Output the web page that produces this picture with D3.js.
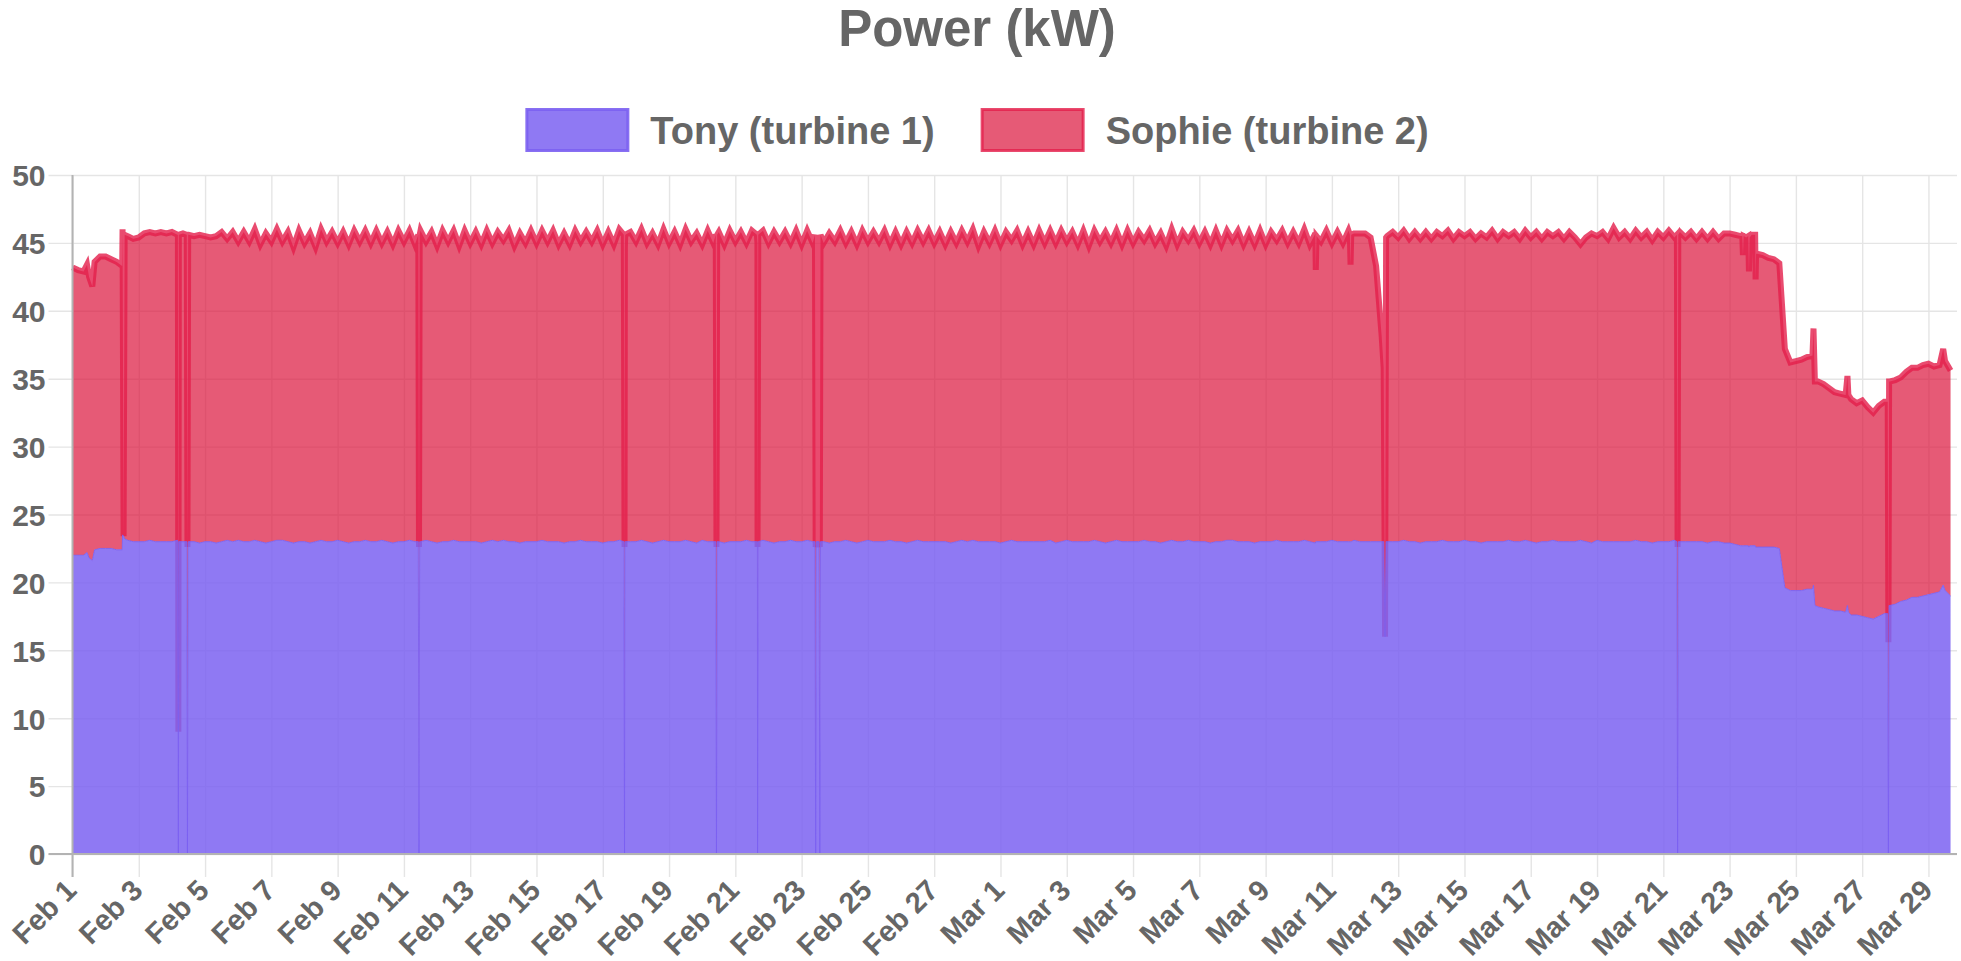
<!DOCTYPE html>
<html><head><meta charset="utf-8">
<script src="https://cdn.jsdelivr.net/npm/d3@7"></script>
<style>html,body{margin:0;padding:0;background:#fff;}svg{display:block;}</style>
</head><body>
<svg id="c" width="1961" height="961"></svg>
<script>
// ---------------- DATA ----------------
const startTime = "2023-02-01T00:00";   // first sample, one sample every 4 hours
const stepHours = 4;
const seriesNames = ["Tony (turbine 1)", "Sophie (turbine 2)"];

// Tony (turbine 1), kW, one row per day (00,04,08,12,16,20h)
const tonyKW = [
22.0,22.0,22.0,21.8,22.4,22.5,
22.5,22.5,22.4,22.4,23.1,23.0,
23.0,23.0,23.1,23.0,23.0,23.0,
23.0,23.1,23.0,23.0,23.0,22.9,
23.0,23.0,22.9,23.0,23.1,23.0,
23.1,23.0,23.0,23.1,23.0,22.9,
23.0,23.1,23.1,23.0,22.9,23.0,
23.0,22.9,23.0,23.1,23.0,23.0,
23.1,23.0,22.9,23.0,23.0,23.1,
23.0,23.0,23.1,23.0,22.9,23.0,
23.0,23.1,23.0,23.0,23.1,23.0,
22.9,23.0,23.0,23.1,23.0,23.0,
23.0,23.0,22.9,23.0,23.1,23.0,
23.1,23.0,23.0,22.9,23.0,23.0,
23.0,23.1,23.0,23.0,23.0,22.9,
23.0,23.0,23.1,23.0,23.0,23.0,
22.9,23.0,23.0,23.1,23.0,23.0,
23.0,23.1,23.0,22.9,23.0,23.1,
23.0,23.0,23.0,23.1,23.0,22.9,
23.1,23.0,23.0,23.0,22.9,23.0,
23.0,23.0,23.1,23.0,23.0,23.1,
23.0,22.9,23.0,23.0,23.1,23.0,
23.0,23.1,23.0,23.0,23.0,22.9,
23.0,23.0,23.1,23.0,22.9,23.0,
23.1,23.0,23.0,23.0,23.1,23.0,
23.0,22.9,23.0,23.1,23.0,23.0,
23.0,23.0,23.0,22.9,23.0,23.1,
23.0,23.1,23.0,23.0,23.0,23.0,
22.9,23.0,23.1,23.0,23.0,23.0,
23.0,23.0,23.0,23.1,22.9,23.0,
23.1,23.0,23.0,23.0,23.0,23.1,
23.0,22.9,23.0,23.1,23.0,23.0,
23.0,23.0,23.1,23.0,23.0,22.9,
23.0,23.1,23.0,23.0,23.1,23.0,
23.0,23.0,22.9,23.0,23.0,23.1,
23.1,23.0,23.0,23.0,22.9,23.0,
23.0,23.0,23.1,23.0,23.0,23.0,
23.0,23.1,23.0,22.9,23.0,23.0,
23.1,23.0,23.0,23.0,23.1,23.0,
23.0,23.0,23.0,23.0,23.0,23.0,
23.0,23.1,23.0,23.0,22.9,23.0,
23.0,23.0,23.1,23.0,23.0,23.0,
23.1,23.0,23.0,22.9,23.0,23.0,
23.0,23.0,23.1,23.0,23.0,23.1,
23.0,22.9,23.0,23.0,23.1,23.0,
23.0,23.0,23.0,23.1,23.0,22.9,
23.1,23.0,23.0,23.0,23.0,23.0,
23.0,23.1,23.0,23.0,22.9,23.0,
23.0,23.0,23.1,23.0,23.0,23.0,
23.0,23.0,22.9,23.0,23.0,22.9,
22.9,22.8,22.7,22.7,22.7,22.6,
22.6,22.6,22.6,22.5,19.6,19.4,
19.4,19.4,19.5,19.5,18.2,18.1,
18.0,17.9,17.9,17.8,17.6,17.6,
17.5,17.4,17.3,17.5,17.7,18.3,
18.4,18.6,18.7,18.9,18.9,19.0,
19.1,19.2,19.3,19.4,19.0
];

// Sophie (turbine 2), kW, same timestamps
const sophieKW = [
21.2,21.0,20.9,20.7,21.2,21.5,
21.5,21.3,21.2,20.9,22.4,22.3,
22.4,22.7,22.7,22.7,22.8,22.7,
22.8,22.5,22.7,22.6,22.5,22.7,
22.5,22.4,22.6,22.8,22.2,22.8,
22.0,22.8,22.1,22.9,21.9,22.8,
22.1,22.9,22.0,22.8,21.8,22.9,
22.0,22.8,21.7,22.9,22.1,22.8,
21.9,22.8,22.0,22.9,22.1,22.8,
22.0,22.9,21.9,22.8,22.0,22.9,
22.1,22.8,21.9,22.9,22.0,22.8,
21.9,22.9,22.1,22.8,21.8,22.9,
22.0,22.8,22.0,22.9,21.9,22.8,
22.1,22.9,21.8,22.8,22.0,22.9,
22.0,22.8,22.1,22.9,21.9,22.8,
21.9,22.9,22.0,22.8,22.1,22.9,
22.0,22.8,21.9,22.9,21.7,22.8,
22.1,22.9,22.0,22.8,21.9,22.9,
22.0,22.8,21.9,22.9,22.1,22.8,
21.8,22.9,22.0,22.8,22.0,22.9,
22.1,22.8,21.9,22.9,22.0,22.8,
22.0,22.9,22.1,22.8,21.9,22.9,
21.9,22.8,22.0,0.0,22.0,22.8,
22.1,22.9,21.9,22.8,22.0,22.9,
22.0,22.8,22.1,22.9,21.8,22.8,
21.9,22.9,22.0,22.8,22.1,22.9,
22.0,22.8,21.9,22.9,22.0,22.8,
22.1,22.9,21.8,22.8,22.0,22.9,
22.0,22.8,22.1,22.9,21.9,22.8,
21.9,22.9,22.0,22.8,22.1,22.9,
22.0,22.8,21.9,22.9,21.8,22.8,
22.1,22.9,22.0,22.8,21.9,22.9,
22.0,22.8,22.1,22.9,22.0,22.8,
21.8,22.9,21.9,22.8,22.1,22.9,
22.0,22.8,22.0,22.9,21.9,22.8,
22.1,22.9,21.9,22.8,22.0,22.9,
21.9,22.8,22.1,22.9,22.0,22.8,
22.0,22.9,21.9,22.8,22.1,22.9,
21.9,22.8,22.0,22.9,22.6,22.7,
22.7,22.4,20.3,15.2,22.5,22.8,
22.4,22.8,22.3,22.8,22.4,22.8,
22.3,22.8,22.4,22.9,22.3,22.8,
22.4,22.8,22.3,22.8,22.4,22.9,
22.3,22.8,22.4,22.8,22.3,22.8,
22.4,22.9,22.3,22.8,22.4,22.8,
22.3,22.8,22.4,21.8,22.4,22.8,
22.4,22.8,22.3,23.1,22.4,22.8,
22.3,22.8,22.4,22.8,22.3,22.8,
22.4,22.9,22.3,22.8,22.4,22.8,
22.3,22.8,22.4,22.8,22.3,22.8,
22.8,22.8,22.8,22.7,22.9,21.6,
21.5,21.3,21.2,21.0,17.6,16.8,
16.9,17.0,17.1,17.2,16.6,16.5,
16.3,16.1,16.0,16.0,15.9,15.6,
15.9,15.5,15.2,15.5,15.6,16.5,
16.5,16.5,16.8,16.9,16.9,17.0,
17.0,16.7,16.7,16.9,16.6
];

// short outages / spikes between the regular samples: [time, tony kW, sophie kW]
const eventRows = [
["2023-02-01T10:30",22.2,21.2],["2023-02-01T14:20",21.6,20.2],
["2023-02-02T12:15",23.5,22.5],["2023-02-02T13:00",23.4,0],["2023-02-02T13:45",23.2,22.4],
["2023-02-04T04:20",23.0,22.6],["2023-02-04T04:40",0,9.0],["2023-02-04T05:00",23.0,22.6],
["2023-02-04T10:45",23.0,22.6],["2023-02-04T11:15",0,22.6],["2023-02-04T11:45",23.0,22.6],
["2023-02-11T10:25",23.0,22.6],["2023-02-11T10:55",0,22.6],["2023-02-11T11:25",23.0,22.6],
["2023-02-17T15:15",23.0,22.6],["2023-02-17T15:45",0,22.6],["2023-02-17T16:15",23.0,22.6],
["2023-02-20T09:50",23.0,22.6],["2023-02-20T10:20",0,22.6],["2023-02-20T10:50",23.0,22.6],
["2023-02-21T15:35",23.0,22.6],["2023-02-21T16:05",0,22.6],["2023-02-21T16:35",23.0,22.6],
["2023-02-23T09:40",23.0,22.6],["2023-02-23T10:10",0,22.6],["2023-02-23T10:40",23.0,0],
["2023-02-23T12:40",23.0,0],["2023-02-23T13:10",0,22.6],["2023-02-23T13:40",23.0,22.6],
["2023-03-10T12:20",23.0,20.0],["2023-03-10T12:50",23.0,22.5],
["2023-03-11T13:00",23.0,22.6],["2023-03-11T13:30",23.0,20.4],["2023-03-11T14:00",23.0,22.6],
["2023-03-12T13:30",23.0,12.8],["2023-03-12T14:30",16.0,0],["2023-03-12T15:15",23.0,22.4],
["2023-03-21T09:50",23.0,22.6],["2023-03-21T10:20",0,22.6],["2023-03-21T10:50",23.0,22.6],
["2023-03-23T09:10",22.7,22.8],["2023-03-23T09:40",22.7,21.4],["2023-03-23T10:10",22.7,22.8],
["2023-03-23T13:30",22.7,22.8],["2023-03-23T14:00",22.6,20.3],["2023-03-23T14:30",22.7,22.7],
["2023-03-23T18:30",22.7,22.9],["2023-03-23T18:50",22.6,19.7],["2023-03-23T19:10",22.6,21.6],
["2023-03-25T12:45",19.8,18.9],["2023-03-25T13:45",18.3,16.5],
["2023-03-26T13:20",18.3,16.9],["2023-03-26T14:00",17.8,16.0],
["2023-03-27T18:30",17.7,15.6],["2023-03-27T19:00",0,15.6],["2023-03-27T19:30",18.3,16.5],
["2023-03-29T10:40",19.8,17.4]
];

const xTickLabels = ["Feb 1","Feb 3","Feb 5","Feb 7","Feb 9","Feb 11","Feb 13","Feb 15","Feb 17","Feb 19",
  "Feb 21","Feb 23","Feb 25","Feb 27","Mar 1","Mar 3","Mar 5","Mar 7","Mar 9","Mar 11","Mar 13","Mar 15",
  "Mar 17","Mar 19","Mar 21","Mar 23","Mar 25","Mar 27","Mar 29"];
const yTicks = [0,5,10,15,20,25,30,35,40,45,50];
const axisStart = "2023-02-01T00:00", axisEnd = "2023-03-29T20:40";

// ---------------- BUILD ----------------
const parseT = d3.timeParse("%Y-%m-%dT%H:%M");
const t0 = parseT(startTime);
const byTime = new Map();
tonyKW.forEach((v, i) => {
  const t = d3.timeHour.offset(t0, i * stepHours);
  byTime.set(+t, {t, tony: v, sophie: sophieKW[i]});
});
eventRows.forEach(([s, a, b]) => { const t = parseT(s); byTime.set(+t, {t, tony: a, sophie: b}); });
const rows = Array.from(byTime.values()).sort((a, b) => a.t - b.t);

const X0 = 72.5, X1 = 1957, YT = 175, Y0 = 854;
const x = d3.scaleTime().domain([parseT(axisStart), parseT(axisEnd)]).range([X0, X1]);
const y = d3.scaleLinear().domain([0, 50]).range([Y0, YT]);
const xTickDates = xTickLabels.map(l => d3.timeParse("%b %e %Y")(l + " 2023"));

const FONT = "'Liberation Sans', Arial, Helvetica, sans-serif";
const TXT = "#666";
const GRID = "#e5e5e5", ZERO = "#b3b3b3";
const purpleFill = "rgba(123,97,241,0.85)", purpleLine = "rgba(123,97,241,0.9)";
const redFill = "rgba(220,20,60,0.7)", redLine = "rgba(228,30,75,0.8)";

const svg = d3.select("#c");

// title
svg.append("text").attr("x", 977).attr("y", 46).attr("text-anchor", "middle")
  .attr("font-family", FONT).attr("font-weight", "bold").attr("font-size", 51).attr("fill", TXT)
  .text("Power (kW)");

// legend
const legColors = [[purpleFill, purpleLine], [redFill, redLine]];
const leg = svg.append("g");
let lx = 0;
seriesNames.forEach((name, i) => {
  const g = leg.append("g").attr("transform", `translate(${lx},0)`);
  g.append("rect").attr("x", 1.5).attr("y", 109.5).attr("width", 101).attr("height", 41)
    .attr("fill", legColors[i][0]).attr("stroke", legColors[i][1]).attr("stroke-width", 3);
  const t = g.append("text").attr("x", 125).attr("y", 131).attr("dy", "0.35em")
    .attr("font-family", FONT).attr("font-weight", "bold").attr("font-size", 38).attr("fill", TXT).text(name);
  lx += 125 + t.node().getComputedTextLength() + 46;
});
const legW = lx - 46;
leg.attr("transform", `translate(${977 - legW / 2},0)`);

// y grid + labels
const gy = svg.append("g").attr("transform", `translate(${X0},0)`)
  .call(d3.axisLeft(y).tickValues(yTicks).tickSize(24).tickPadding(3));
gy.select(".domain").remove();
gy.selectAll(".tick line").attr("x1", -24).attr("x2", X1 - X0).attr("stroke", GRID).attr("stroke-width", 1.4);
gy.selectAll(".tick text").attr("font-family", FONT).attr("font-weight", "bold").attr("font-size", 30)
  .attr("fill", TXT).attr("dy", "0.36em");

// x grid + labels
const gx = svg.append("g").attr("transform", `translate(0,${Y0})`)
  .call(d3.axisBottom(x).tickValues(xTickDates).tickSize(23).tickFormat((d, i) => xTickLabels[i]));
gx.select(".domain").remove();
gx.selectAll(".tick line").attr("y1", -(Y0 - YT)).attr("y2", 23).attr("stroke", GRID).attr("stroke-width", 1.4);
gx.selectAll(".tick text").attr("y", 0).attr("dy", "0.35em").attr("text-anchor", "end")
  .attr("transform", "translate(-2,31) rotate(-45)")
  .attr("font-family", FONT).attr("font-weight", "bold").attr("font-size", 29).attr("fill", TXT);

// stacked areas
const stacked = d3.stack().keys(["tony", "sophie"])(rows);
const area = d3.area().x(d => x(d.data.t)).y0(d => y(d[0])).y1(d => y(d[1]));
const line = d3.line().x(d => x(d.data.t)).y(d => y(d[1]));
const plot = svg.append("g");
// Sophie drawn first, Tony on top (as the original library does)
plot.append("path").attr("d", area(stacked[1])).attr("fill", redFill);
plot.append("path").attr("d", line(stacked[1])).attr("fill", "none").attr("stroke", redLine)
  .attr("stroke-width", 6).attr("stroke-linejoin", "miter");
plot.append("path").attr("d", area(stacked[0])).attr("fill", purpleFill);
plot.append("path").attr("d", line(stacked[0])).attr("fill", "none").attr("stroke", purpleLine)
  .attr("stroke-width", 1);

// zero lines
svg.append("line").attr("x1", X0).attr("x2", X0).attr("y1", YT).attr("y2", Y0 + 23)
  .attr("stroke", ZERO).attr("stroke-width", 2);
svg.append("line").attr("x1", X0 - 24).attr("x2", X1).attr("y1", Y0).attr("y2", Y0)
  .attr("stroke", ZERO).attr("stroke-width", 2);
</script>
</body></html>
